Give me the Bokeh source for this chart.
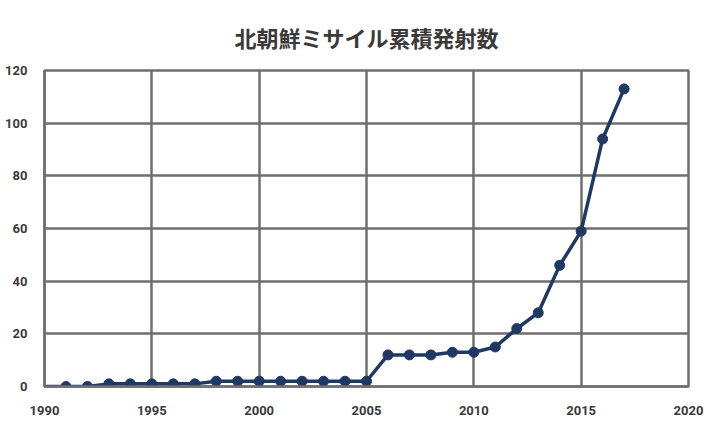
from bokeh.plotting import figure
from bokeh.models import Range1d, FixedTicker
from bokeh.embed import file_html
from bokeh.resources import INLINE

title_text = "北朝鮮ミサイル累積発射数"
years = [1990, 1991, 1992, 1993, 1994, 1995, 1996, 1997, 1998, 1999,
         2000, 2001, 2002, 2003, 2004, 2005, 2006, 2007, 2008, 2009,
         2010, 2011, 2012, 2013, 2014, 2015, 2016, 2017]
launches = [0, 0, 0, 1, 1, 1, 1, 1, 2, 2,
            2, 2, 2, 2, 2, 2, 12, 12, 12, 13,
            13, 15, 22, 28, 46, 59, 94, 113]
x_ticks = [1990, 1995, 2000, 2005, 2010, 2015, 2020]
y_ticks = [0, 20, 40, 60, 80, 100, 120]

GRID = "#6f6f6f"
NAVY = "#1f3864"
TXT = "#3a3a3a"

p = figure(width=712, height=420, output_backend="svg", toolbar_location=None,
           x_range=Range1d(1990, 2020), y_range=Range1d(0, 120),
           min_border_left=44, min_border_right=24, min_border_bottom=34,
           min_border_top=68, background_fill_color="white",
           border_fill_color="white")

p.title.text = title_text
p.title.align = "center"
p.title.text_font = "Noto Sans CJK JP"
p.title.text_font_size = "22px"
p.title.text_font_style = "bold"
p.title.text_color = TXT
p.title.standoff = 36

p.outline_line_color = GRID
p.outline_line_width = 2.5

for ax in (p.xaxis[0], p.yaxis[0]):
    ax.axis_line_color = GRID
    ax.axis_line_width = 2.5
    ax.major_tick_line_color = None
    ax.minor_tick_line_color = None
    ax.major_label_text_font = "Roboto"
    ax.major_label_text_font_style = "bold"
    ax.major_label_text_font_size = "13px"
    ax.major_label_text_color = TXT

p.xaxis.ticker = FixedTicker(ticks=x_ticks)
p.yaxis.ticker = FixedTicker(ticks=y_ticks)
p.xaxis.major_label_standoff = 13
p.yaxis.major_label_standoff = 11

p.xgrid.ticker = FixedTicker(ticks=x_ticks)
p.ygrid.ticker = FixedTicker(ticks=y_ticks)
for g in (p.xgrid[0], p.ygrid[0]):
    g.grid_line_color = GRID
    g.grid_line_width = 2.5

p.line(years, launches, line_color=NAVY, line_width=3.5)
p.scatter(years[1:], launches[1:], size=10, fill_color=NAVY, line_color=NAVY)

open("out.html", "w").write(file_html(p, INLINE))
